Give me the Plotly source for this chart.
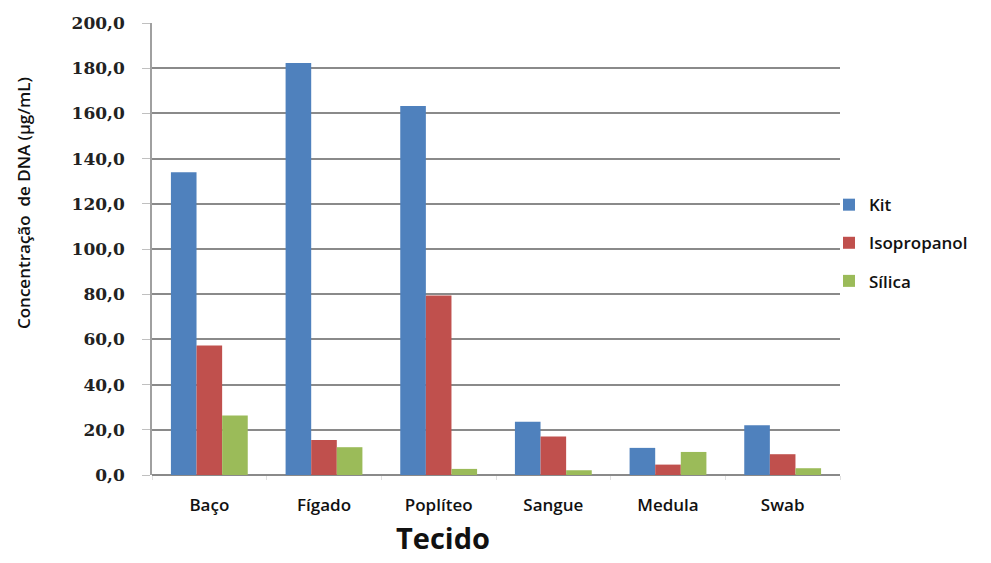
import plotly.graph_objects as go

# Tissue samples and DNA concentration (µg/mL) per extraction method
tecidos = ["Baço", "Fígado", "Poplíteo", "Sangue", "Medula", "Swab"]
kit = [134.0, 182.3, 163.3, 23.6, 12.0, 22.0]
isopropanol = [57.3, 15.5, 79.4, 17.0, 4.6, 9.2]
silica = [26.3, 12.3, 2.7, 2.1, 10.2, 3.0]
y_ticks = [0, 20, 40, 60, 80, 100, 120, 140, 160, 180, 200]
y_tick_text = [f"{v:.1f}".replace(".", ",") for v in y_ticks]

series = [
    ("Kit", kit, "#4F81BD"),
    ("Isopropanol", isopropanol, "#C0504D"),
    ("Sílica", silica, "#9BBB59"),
]

fig = go.Figure()
for name, vals, color in series:
    fig.add_trace(go.Bar(x=tecidos, y=vals, name=name, legendgroup=name,
                         marker=dict(color=color, line=dict(width=0))))

fig.update_layout(
    width=991, height=563,
    margin=dict(l=152, r=151, t=23, b=88, autoexpand=False),
    paper_bgcolor="white", plot_bgcolor="white",
    barmode="group", bargap=0.33, bargroupgap=0,
    showlegend=True,
    legend=dict(x=0.984, xanchor="left", y=0.513, yanchor="middle",
                font=dict(family="Open Sans", size=17, color="#111", weight=600),
                itemwidth=30, tracegroupgap=13, bgcolor="rgba(0,0,0,0)"),
    font=dict(family="Open Sans", color="#111"),
)

fig.update_xaxes(
    showline=False, showgrid=False,
    ticks="outside", tickson="boundaries", ticklen=4, tickcolor="#e0e0e0",
    ticklabelstandoff=18,
    tickfont=dict(family="Open Sans", size=17, color="#111", weight=600),
)
fig.update_yaxes(
    range=[0, 200], tickvals=y_ticks, ticktext=y_tick_text,
    showgrid=True, gridcolor="#8a8a8a", gridwidth=1.5,
    showline=True, linecolor="#a0a0a0", linewidth=1.5,
    zeroline=True, zerolinecolor="#8a8a8a", zerolinewidth=1.5,
    ticks="outside", ticklen=8, tickcolor="#c0c0c0",
    ticklabelstandoff=14,
    tickfont=dict(family="DejaVu Serif", size=17, color="#222", weight="bold"),
)

fig.add_annotation(text="<b>Tecido</b>", xref="paper", yref="paper",
                   x=(443 - 152) / (991 - 152 - 151), y=(475 - 537) / (475 - 23),
                   yanchor="middle", showarrow=False,
                   font=dict(family="Open Sans", size=29, color="#111"))
fig.add_annotation(text="Concentração  de DNA (µg/mL)", xref="paper", yref="paper",
                   x=-0.186, xanchor="center",
                   y=(475 - 203) / (475 - 23), yanchor="middle",
                   textangle=-90, showarrow=False,
                   font=dict(family="Open Sans", size=17, color="#111", weight=600))

fig.write_html("out.html")
